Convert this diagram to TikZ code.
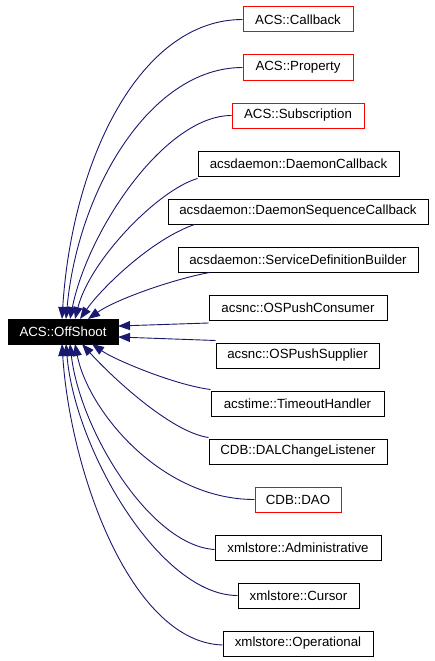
\documentclass[tikz,border=0pt]{standalone}
\usepackage{fontspec}
\setmainfont{Liberation Sans}
\usetikzlibrary{arrows.meta}
\definecolor{edgeblue}{RGB}{25,25,112}
\definecolor{boxred}{RGB}{255,0,0}
\begin{document}
\begin{tikzpicture}[x=1pt,y=-1pt,
  box/.style={draw=black,line width=1pt,rectangle,minimum height=25pt,inner sep=0pt,font=\fontsize{13.3}{15}\selectfont,fill=white},
  redbox/.style={box,draw=boxred},
  rootbox/.style={box,fill=black,text=white},
  inh/.style={draw=edgeblue,line width=0.9pt,-{Triangle[length=12pt,width=9pt,fill=edgeblue]}}]
\useasboundingbox (0,0) rectangle (435,661);
\fill[white] (0,0) rectangle (435,661);

\node[rootbox,minimum width=110pt] (os) at (63,331.5) {ACS::OffShoot};

\node[redbox,minimum width=110pt] (cb) at (298,19.5) {ACS::Callback};
\node[redbox,minimum width=110pt] (prop) at (298,67.5) {ACS::Property};
\node[redbox,minimum width=132pt] (sub) at (298,115.5) {ACS::Subscription};
\node[box,minimum width=201pt] (dcb) at (298.5,163.5) {acsdaemon::DaemonCallback};
\node[box,minimum width=260pt] (dsc) at (298,211.5) {acsdaemon::DaemonSequenceCallback};
\node[box,minimum width=240pt] (sdb) at (298,259.5) {acsdaemon::ServiceDefinitionBuilder};
\node[box,minimum width=178pt] (opc) at (298,307.5) {acsnc::OSPushConsumer};
\node[box,minimum width=163pt] (ops) at (297.5,355.5) {acsnc::OSPushSupplier};
\node[box,minimum width=173pt] (toh) at (297.5,403.5) {acstime::TimeoutHandler};
\node[box,minimum width=178pt] (dal) at (298,451.5) {CDB::DALChangeListener};
\node[redbox,minimum width=86pt] (dao) at (298,499.5) {CDB::DAO};
\node[box,minimum width=166pt] (adm) at (298,547.5) {xmlstore::Administrative};
\node[box,minimum width=121pt] (cur) at (298.5,595.5) {xmlstore::Cursor};
\node[box,minimum width=150pt] (opr) at (298,643.5) {xmlstore::Operational};

% tips on the root box
\coordinate (t1) at (62,319);
\coordinate (t2) at (66,319);
\coordinate (t3) at (70,319);
\coordinate (t4) at (75,319);
\coordinate (t5) at (80,319);
\coordinate (t6) at (88,319);
\coordinate (t7) at (118,326);
\coordinate (t8) at (118,337);
\coordinate (t9) at (92,344);
\coordinate (t10) at (82,344);
\coordinate (t11) at (75,344);
\coordinate (t12) at (70,344);
\coordinate (t13) at (66,344);
\coordinate (t14) at (62,344);

\path[inh] (cb.west) .. controls (140,19.5) and (72,160) .. (t1);
\path[inh] (prop.west) .. controls (150,67.5) and (78,190) .. (t2);
\path[inh] (sub.west) .. controls (165,115.5) and (88,230) .. (t3);
\path[inh] ([yshift=-2pt]dcb.south west) .. controls (158,190) and (90,260) .. (t4);
\path[inh] ([xshift=27pt]dsc.south west) .. controls (150,240) and (100,290) .. (t5);
\path[inh] ([xshift=32pt]sdb.south west) .. controls (170,280) and (115,300) .. (t6);
\path[inh] ([yshift=-2.5pt]opc.south west) -- (t7);
\path[inh] ([yshift=2pt]ops.north west) -- (t8);
\path[inh] ([yshift=1pt]toh.north west) .. controls (175,385) and (115,360) .. (t9);
\path[inh] ([yshift=1pt]dal.north west) .. controls (170,432) and (110,375) .. (t10);
\path[inh] (dao.west) .. controls (160,499.5) and (88,410) .. (t11);
\path[inh] ([yshift=-2pt]adm.west) .. controls (150,545.5) and (80,430) .. (t12);
\path[inh] (cur.west) .. controls (160,595.5) and (75,450) .. (t13);
\path[inh] ([yshift=-1.5pt]opr.west) .. controls (130,642) and (70,470) .. (t14);
\end{tikzpicture}
\end{document}
